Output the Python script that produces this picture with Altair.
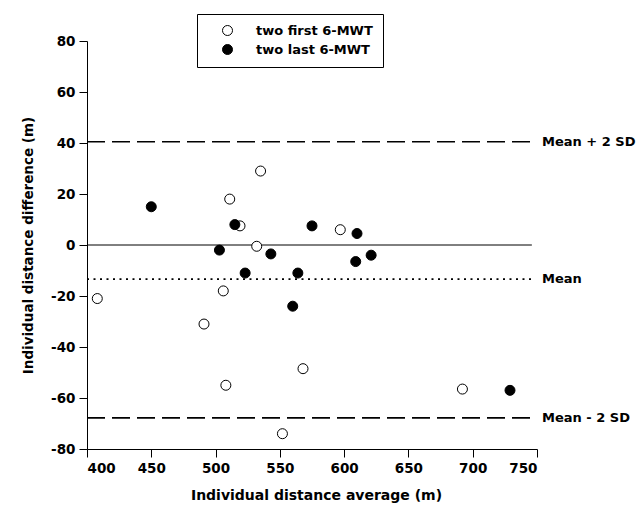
import altair as alt
import pandas as pd

# Data
first_x = [535, 511, 519, 532, 506, 408, 491, 597, 568, 508, 552, 692]
first_y = [29, 18, 7.5, -0.5, -18, -21, -31, 6, -48.5, -55, -74, -56.5]
last_x = [450, 515, 503, 543, 523, 575, 610, 621, 609, 564, 560, 729]
last_y = [15, 8, -2, -3.5, -11, 7.5, 4.5, -4, -6.5, -11, -24, -57]
series_names = ["two first 6-MWT", "two last 6-MWT"]

ref_values = [40.5, -13.4, -67.8, 0]
ref_labels = ["Mean + 2 SD", "Mean", "Mean - 2 SD", ""]
ref_styles = ["dashed", "dotted", "dashed", "solid"]

x_ticks = [400, 450, 500, 550, 600, 650, 700, 750]
y_ticks = [-80, -60, -40, -20, 0, 20, 40, 60, 80]

pts = pd.DataFrame({
    "avg": first_x + last_x,
    "diff": first_y + last_y,
    "series": [series_names[0]] * len(first_x) + [series_names[1]] * len(last_x),
})
refs = pd.DataFrame({"value": ref_values, "label": ref_labels, "style": ref_styles})

FONT = "DejaVu Sans"

xscale = alt.Scale(domain=[400, 750], nice=False, zero=False)
yscale = alt.Scale(domain=[-80, 80], nice=False, zero=False)

xaxis = alt.Axis(values=x_ticks, title="Individual distance average (m)", grid=False,
                 labelExpr="'' + datum.value", titleFontSize=14,
                 titleX=229, titleY=46, titleBaseline="middle", titleAlign="center")
yaxis = alt.Axis(values=y_ticks, title="Individual distance difference (m)", grid=False,
                 labelExpr="'' + datum.value", titleFontSize=13.5,
                 titleX=-59, titleY=204, titleAngle=270, titleAlign="center",
                 titleBaseline="middle")

base_ref = alt.Chart(refs)

def rule_layer(style, dash, width):
    return base_ref.transform_filter(alt.datum.style == style).mark_rule(
        color="black", strokeDash=dash, strokeWidth=width
    ).encode(
        x=alt.X(datum=400, scale=xscale, axis=xaxis),
        x2=alt.X2(datum=746),
        y=alt.Y("value:Q", scale=yscale, axis=yaxis),
    )

dashed = rule_layer("dashed", [18, 7], 1.6)
dotted = rule_layer("dotted", [2, 4.5], 1.6)
solid = rule_layer("solid", [1, 0], 1)

labels = base_ref.transform_filter(alt.datum.label != "").mark_text(
    align="left", baseline="middle", dx=5, font=FONT, fontWeight="bold",
    fontSize=13, color="black"
).encode(
    x=alt.X(datum=750, scale=xscale),
    y=alt.Y("value:Q", scale=yscale),
    text="label:N",
)

points = alt.Chart(pts).mark_point(
    shape="circle", filled=True, size=100, stroke="black", strokeWidth=1, opacity=1
).encode(
    x=alt.X("avg:Q", scale=xscale),
    y=alt.Y("diff:Q", scale=yscale),
    fill=alt.Fill("series:N", scale=alt.Scale(domain=series_names, range=["white", "black"]),
                  legend=alt.Legend(title=None, orient="none", legendX=110, legendY=-27,
                                    strokeColor="black", fillColor="white", padding=10,
                                    symbolType="circle", symbolSize=100,
                                    symbolStrokeColor="black", symbolStrokeWidth=1,
                                    symbolOffset=14, labelOffset=22, rowPadding=4,
                                    labelFont=FONT, labelFontWeight="bold",
                                    labelFontSize=13, labelColor="black", labelLimit=300)),
)

chart = alt.layer(solid, dashed, dotted, labels, points).properties(
    width=450, height=408,
    padding={"left": 87, "top": 41, "right": 107, "bottom": 63},
    autosize=alt.AutoSizeParams(type="none"),
).configure_view(stroke=None).configure_axis(
    domainColor="black", tickColor="black", tickSize=8, labelPadding=4,
    labelFont=FONT, labelFontWeight="bold", labelFontSize=13.5, labelColor="black",
    titleFont=FONT, titleFontWeight="bold", titleFontSize=13, titleColor="black",
)

chart.save("out.html", embed_options={"renderer": "svg", "actions": False})
